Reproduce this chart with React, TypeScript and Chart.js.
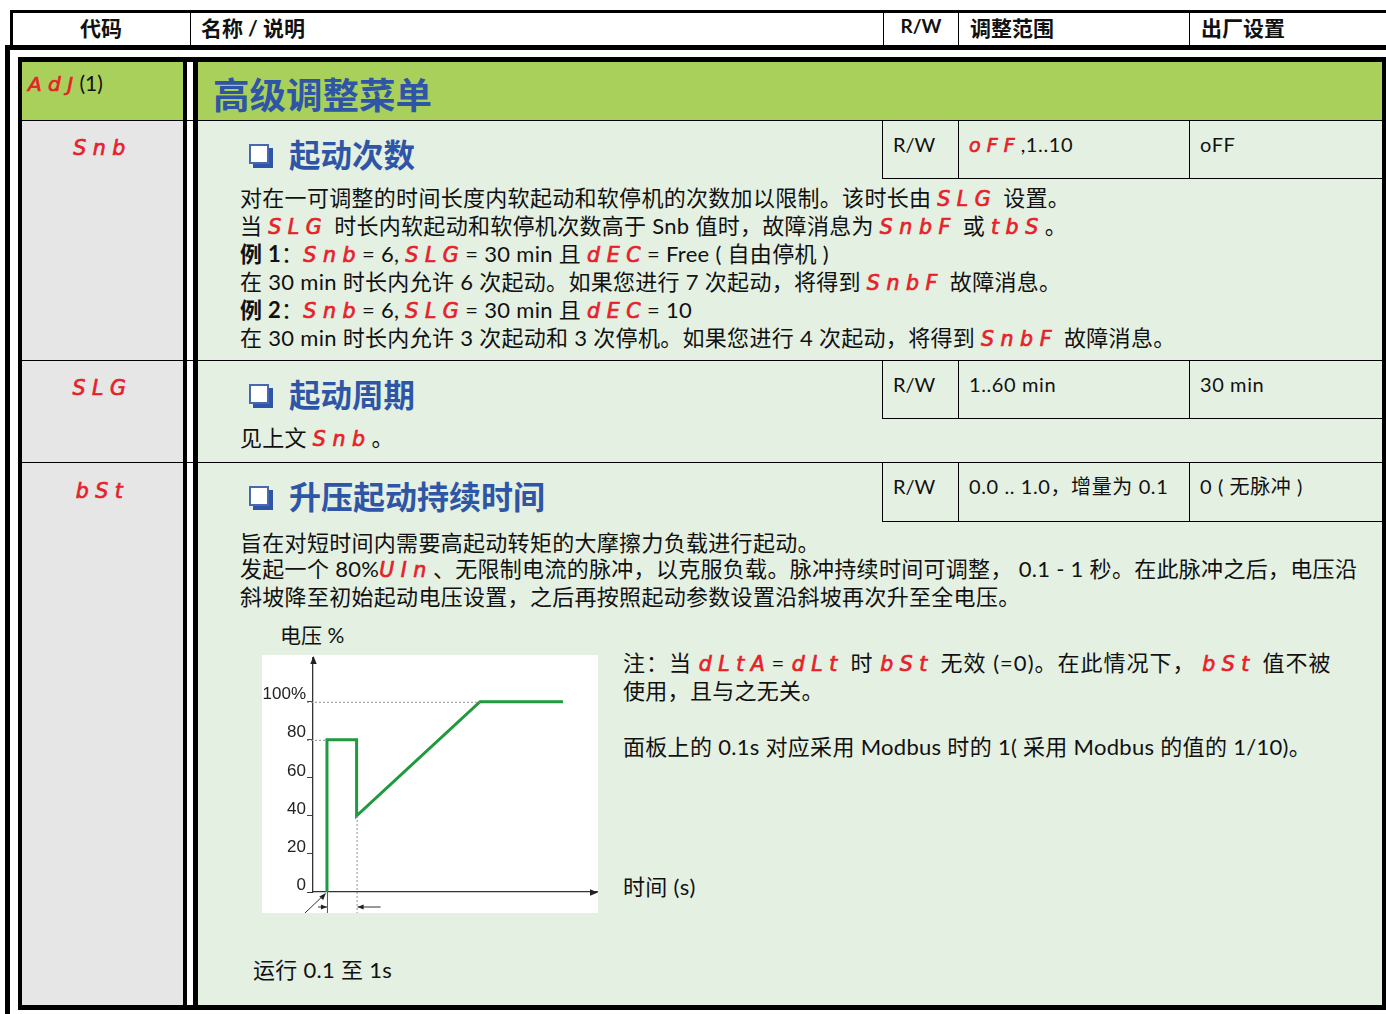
import React, { useEffect, useRef } from 'react';
import { Chart, registerables } from 'chart.js';

Chart.register(...registerables);

// ---- chart data (boost pulse voltage profile) ----
const timeValues = [0.49, 0.49, 1.53, 1.53, 5.86, 8.77];
const voltageValues = [0, 80, 80, 40, 100, 100];
const yTickValues = [0, 20, 40, 60, 80, 100];
const yTickLabels = ['0', '20', '40', '60', '80', '100%'];
const dottedLevels = [100, 80];

const FONT = "'Lato', 'Noto Sans CJK SC', sans-serif";
const RED = '#e8202a';
const BLUE = '#2f55a6';
const GREEN_HEAD = '#a9d05a';
const GREEN_BG = '#e4f0e1';
const GRAY_BG = '#e6e6e6';

const guidePlugin = {
  id: 'guides',
  afterDatasetsDraw(chart: any) {
    const { ctx } = chart;
    const xs = chart.scales.x;
    const ys = chart.scales.y;
    const px = (v: number) => xs.getPixelForValue(v);
    const py = (v: number) => ys.getPixelForValue(v);
    const x0 = px(0);
    const y0 = py(0);
    const H = chart.height;
    const line = (a: number, b: number, c: number, d: number) => {
      ctx.beginPath();
      ctx.moveTo(a, b);
      ctx.lineTo(c, d);
      ctx.stroke();
    };
    const head = (tx: number, ty: number, ang: number, len = 8, w = 3.2) => {
      ctx.beginPath();
      ctx.moveTo(tx, ty);
      ctx.lineTo(tx - len * Math.cos(ang) + w * Math.sin(ang), ty - len * Math.sin(ang) - w * Math.cos(ang));
      ctx.lineTo(tx - len * Math.cos(ang) - w * Math.sin(ang), ty - len * Math.sin(ang) + w * Math.cos(ang));
      ctx.closePath();
      ctx.fill();
    };
    ctx.save();
    ctx.strokeStyle = '#8c8c8c';
    ctx.lineWidth = 1;
    ctx.setLineDash([2, 2]);
    line(x0 - 6, py(dottedLevels[0]) + 0.5, px(timeValues[4]), py(dottedLevels[0]) + 0.5);
    line(x0 - 6, py(dottedLevels[1]) + 0.5, px(timeValues[1]), py(dottedLevels[1]) + 0.5);
    line(px(timeValues[3]) + 0.5, py(voltageValues[3]), px(timeValues[3]) + 0.5, H);
    ctx.setLineDash([]);
    ctx.strokeStyle = '#555';
    line(px(timeValues[0]) + 0.5, y0, px(timeValues[0]) + 0.5, H);
    ctx.strokeStyle = '#333';
    ctx.fillStyle = '#222';
    line(x0 - 5, y0 + 0.5, x0, y0 + 0.5);
    head(x0 + 0.5, chart.chartArea.top - 2, -Math.PI / 2);
    head(chart.chartArea.right, y0 + 0.5, 0);
    const dy = H - 6;
    ctx.lineWidth = 1;
    line(px(timeValues[0]) - 9, dy, px(timeValues[0]), dy);
    head(px(timeValues[0]), dy, 0, 6, 2.5);
    line(px(timeValues[3]) + 24, dy, px(timeValues[3]) + 1, dy);
    head(px(timeValues[3]) + 1, dy, Math.PI, 6, 2.5);
    line(px(timeValues[0]) - 22, H, px(timeValues[0]) - 2, y0 + 2);
    head(px(timeValues[0]) - 1, y0 + 1, -Math.PI / 4 - 0.05, 7, 2.6);
    ctx.restore();
  },
};

function VoltageChart() {
  const ref = useRef<HTMLCanvasElement>(null);
  useEffect(() => {
    if (!ref.current) return;
    const chart = new Chart(ref.current, {
      type: 'scatter',
      data: {
        datasets: [
          {
            data: timeValues.map((t, i) => ({ x: t, y: voltageValues[i] })),
            showLine: true,
            borderColor: '#1f9a3e',
            borderWidth: 3,
            pointRadius: 0,
            borderJoinStyle: 'miter',
          },
        ],
      },
      options: {
        animation: false,
        responsive: false,
        maintainAspectRatio: false,
        layout: { padding: { top: 3, left: 0, right: 0, bottom: 0 } },
        plugins: { legend: { display: false }, tooltip: { enabled: false } },
        scales: {
          x: {
            type: 'linear',
            min: 0,
            max: 10,
            ticks: { display: false },
            grid: { display: false },
            border: { display: true, color: '#333', width: 1.3 },
            afterFit: (s: any) => {
              s.height = 21;
            },
          },
          y: {
            type: 'linear',
            min: 0,
            max: 123,
            afterBuildTicks: (s: any) => {
              s.ticks = yTickValues.map((v) => ({ value: v }));
            },
            ticks: {
              padding: 1,
              labelOffset: -7,
              color: '#222',
              font: { family: "'Liberation Sans', Arial, sans-serif", size: 17 },
              callback: (v: any) => yTickLabels[yTickValues.indexOf(Number(v))] ?? '',
            },
            grid: { drawOnChartArea: false, drawTicks: true, tickLength: 6, color: '#444' },
            border: { display: true, color: '#333', width: 1.3 },
            afterFit: (s: any) => {
              s.width = 51;
              s.paddingTop = 0;
              s.paddingBottom = 0;
            },
          },
        },
      },
      plugins: [guidePlugin],
    });
    return () => chart.destroy();
  }, []);
  return (
    <canvas
      ref={ref}
      width={336}
      height={258}
      style={{ position: 'absolute', left: 262, top: 655, width: 336, height: 258, background: '#fff' }}
    />
  );
}

const codeStyle: React.CSSProperties = {
  color: RED,
  fontFamily: "'DejaVu Sans', sans-serif",
  fontStyle: 'oblique',
  letterSpacing: '0.32em',
  fontWeight: 400,
  WebkitTextStroke: `0.7px ${RED}`,
};

function C({ t, size = 20.5 }: { t: string; size?: number }) {
  return <span style={{ ...codeStyle, fontSize: size }}>{t}</span>;
}

function T({
  x,
  y,
  size = 22,
  lh = 28,
  ls = 0.3,
  children,
  style,
}: {
  x: number;
  y: number;
  size?: number;
  lh?: number;
  ls?: number;
  children: React.ReactNode;
  style?: React.CSSProperties;
}) {
  return (
    <div
      style={{
        position: 'absolute',
        left: x,
        top: y - lh / 2,
        lineHeight: lh + 'px',
        fontSize: size,
        letterSpacing: ls + 'px',
        whiteSpace: 'nowrap',
        color: '#111',
        ...style,
      }}
    >
      {children}
    </div>
  );
}

function Box({ x, y, w, h, bg }: { x: number; y: number; w: number; h: number; bg: string }) {
  return <div style={{ position: 'absolute', left: x, top: y, width: w, height: h, background: bg }} />;
}

function CheckBox({ y }: { y: number }) {
  return (
    <div
      style={{
        position: 'absolute',
        left: 249,
        top: y - 11,
        width: 16,
        height: 16,
        border: '2px solid #4868b0',
        background: '#fff',
        boxShadow: `4px 4px 0 ${BLUE}`,
      }}
    />
  );
}

function SubTable({ top, h, c1, c2, c3 }: { top: number; h: number; c1: React.ReactNode; c2: React.ReactNode; c3: React.ReactNode }) {
  return (
    <>
      <Box x={882} y={top} w={1} h={h} bg="#000" />
      <Box x={958} y={top} w={1} h={h} bg="#000" />
      <Box x={1189} y={top} w={1} h={h} bg="#000" />
      <Box x={882} y={top + h} w={500} h={1} bg="#000" />
      <T x={893} y={top + 24} size={20} ls={0}>{c1}</T>
      <T x={969} y={top + 24} size={20} ls={0.6}>{c2}</T>
      <T x={1200} y={top + 24} size={20} ls={0.6}>{c3}</T>
    </>
  );
}

export default function App() {
  const bold: React.CSSProperties = { fontWeight: 700 };
  return (
    <div
      style={{
        position: 'absolute',
        left: 0,
        top: 0,
        width: 1386,
        height: 1014,
        overflow: 'hidden',
        background: '#fff',
        fontFamily: FONT,
      }}
    >
      {/* header row */}
      <Box x={10} y={10} w={1376} h={3} bg="#000" />
      <Box x={10} y={10} w={3} h={37} bg="#000" />
      <Box x={190} y={13} w={1} h={33} bg="#000" />
      <Box x={883} y={13} w={1} h={33} bg="#000" />
      <Box x={958} y={13} w={1} h={33} bg="#000" />
      <Box x={1189} y={13} w={1} h={33} bg="#000" />
      <Box x={5} y={45} w={1381} h={5} bg="#000" />
      <Box x={5} y={45} w={5} h={969} bg="#000" />
      <T x={12} y={28} size={21} ls={0} style={{ ...bold, width: 178, textAlign: 'center' }}>代码</T>
      <T x={201} y={28} size={21} ls={0} style={bold}>名称 / 说明</T>
      <T x={884} y={26} size={19} ls={0} style={{ ...bold, width: 74, textAlign: 'center' }}>R/W</T>
      <T x={970} y={28} size={21} ls={0} style={bold}>调整范围</T>
      <T x={1201} y={28} size={21} ls={0} style={bold}>出厂设置</T>

      {/* inner frame */}
      <Box x={18} y={57} w={1368} h={5} bg="#000" />
      <Box x={18} y={57} w={4} h={953} bg="#000" />
      <Box x={1382} y={57} w={4} h={953} bg="#000" />
      <Box x={18} y={1005} w={1368} h={5} bg="#000" />

      {/* backgrounds */}
      <Box x={22} y={62} w={161} h={58} bg={GREEN_HEAD} />
      <Box x={198} y={62} w={1184} h={58} bg={GREEN_HEAD} />
      <Box x={22} y={121} w={161} h={884} bg={GRAY_BG} />
      <Box x={198} y={121} w={1184} h={884} bg={GREEN_BG} />
      <Box x={187} y={62} w={6} h={943} bg="#fff" />

      {/* row separators */}
      <Box x={22} y={120} w={1360} h={1} bg="#000" />
      <Box x={22} y={360} w={1360} h={1} bg="#000" />
      <Box x={22} y={462} w={1360} h={1} bg="#000" />

      {/* double vertical rule */}
      <Box x={183} y={57} w={4} h={953} bg="#000" />
      <Box x={193} y={57} w={5} h={953} bg="#000" />

      {/* ADJ row */}
      <T x={28} y={83} size={21} ls={0}>
        <C t="AdJ" size={20} />
        <span>(1)</span>
      </T>
      <T x={213} y={95} size={36.5} lh={44} ls={0} style={{ ...bold, color: BLUE }}>高级调整菜单</T>

      {/* Snb row */}
      <T x={22} y={147} style={{ width: 161, textAlign: 'center' }}>
        <C t="Snb" />
      </T>
      <CheckBox y={155} />
      <T x={289} y={155} size={31.5} lh={40} ls={0} style={{ ...bold, color: BLUE }}>起动次数</T>
      <SubTable
        top={120}
        h={58}
        c1="R/W"
        c2={
          <>
            <C t="oFF" size={19} />
            <span>,1..10</span>
          </>
        }
        c3="oFF"
      />
      <T x={240} y={198}>
        对在一可调整的时间长度内软起动和软停机的次数加以限制。该时长由 <C t="SLG" /> 设置。
      </T>
      <T x={240} y={226}>
        当 <C t="SLG" /> 时长内软起动和软停机次数高于 Snb 值时，故障消息为 <C t="SnbF" /> 或 <C t="tbS" />。
      </T>
      <T x={240} y={254}>
        <b>例 1</b>：<C t="Snb" />= 6, <C t="SLG" />= 30 min 且 <C t="dEC" />= Free ( 自由停机 )
      </T>
      <T x={240} y={282}>
        在 30 min 时长内允许 6 次起动。如果您进行 7 次起动，将得到 <C t="SnbF" /> 故障消息。
      </T>
      <T x={240} y={310}>
        <b>例 2</b>：<C t="Snb" />= 6, <C t="SLG" />= 30 min 且 <C t="dEC" />= 10
      </T>
      <T x={240} y={338}>
        在 30 min 时长内允许 3 次起动和 3 次停机。如果您进行 4 次起动，将得到 <C t="SnbF" /> 故障消息。
      </T>

      {/* SLG row */}
      <T x={22} y={387} style={{ width: 161, textAlign: 'center' }}>
        <C t="SLG" />
      </T>
      <CheckBox y={395} />
      <T x={289} y={395} size={31.5} lh={40} ls={0} style={{ ...bold, color: BLUE }}>起动周期</T>
      <SubTable top={360} h={58} c1="R/W" c2="1..60 min" c3="30 min" />
      <T x={240} y={438}>
        见上文 <C t="Snb" />。
      </T>

      {/* bSt row */}
      <T x={22} y={490} style={{ width: 161, textAlign: 'center' }}>
        <C t="bSt" />
      </T>
      <CheckBox y={497} />
      <T x={289} y={497} size={32} lh={40} ls={0} style={{ ...bold, color: BLUE }}>升压起动持续时间</T>
      <SubTable top={462} h={59} c1="R/W" c2="0.0 .. 1.0，增量为 0.1" c3="0 ( 无脉冲 )" />
      <T x={240} y={543}>旨在对短时间内需要高起动转矩的大摩擦力负载进行起动。</T>
      <T x={240} y={569}>
        发起一个 80%<C t="UIn" />、无限制电流的脉冲，以克服负载。脉冲持续时间可调整， 0.1 - 1 秒。在此脉冲之后，电压沿
      </T>
      <T x={240} y={597}>斜坡降至初始起动电压设置，之后再按照起动参数设置沿斜坡再次升至全电压。</T>

      <T x={280} y={635} size={21} ls={0}>电压 %</T>
      <VoltageChart />
      <T x={623} y={663} ls={1}>
        注：当 <C t="dLtA" />= <C t="dLt" /> 时 <C t="bSt" /> 无效 (=0)。在此情况下， <C t="bSt" /> 值不被
      </T>
      <T x={623} y={691}>使用，且与之无关。</T>
      <T x={623} y={747}>面板上的 0.1s 对应采用 Modbus 时的 1( 采用 Modbus 的值的 1/10)。</T>
      <T x={623} y={887}>时间 (s)</T>
      <T x={253} y={970}>运行 0.1 至 1s</T>
    </div>
  );
}
